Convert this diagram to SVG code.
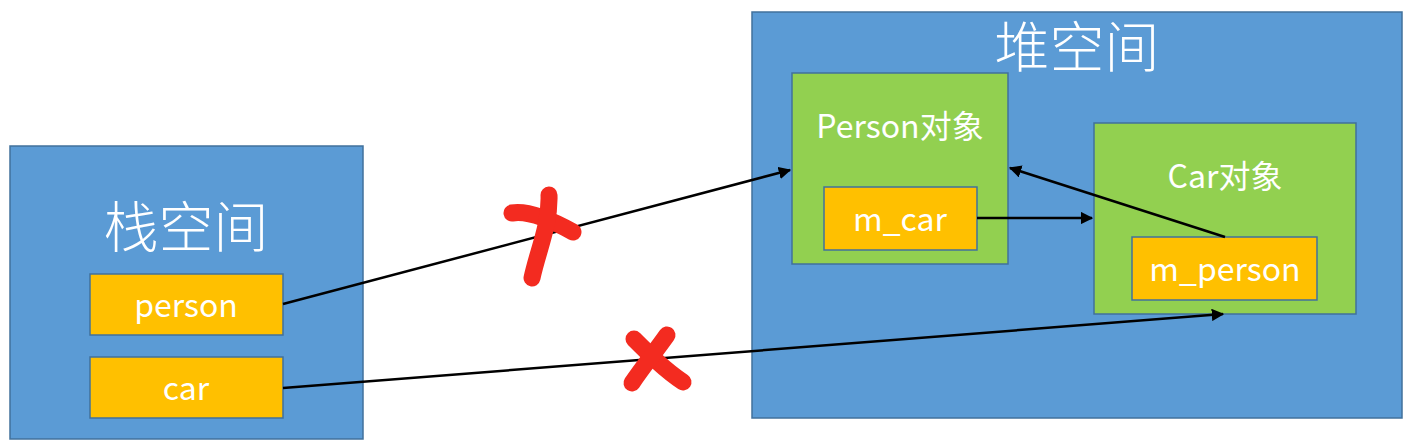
<svg xmlns="http://www.w3.org/2000/svg" width="1428" height="446" viewBox="0 0 1428 446">
<defs>
<style>
.space{fill:#5B9BD5;stroke:#41719C;stroke-width:1.5}
.obj{fill:#92D050;stroke:#41719C;stroke-width:1.5}
.field{fill:#FFC000;stroke:#41719C;stroke-width:1.5}
.t{fill:#fff;font-family:"Noto Sans CJK SC","Noto Sans",sans-serif;text-anchor:middle}
.title{font-size:55px;font-weight:300}
.lbl{font-size:32px}
.conn{stroke:#000;stroke-width:2.5;fill:none;marker-end:url(#ah)}
.mark{stroke:#F32B20;stroke-width:17;stroke-linecap:round;fill:none}
</style>
<marker id="ah" viewBox="0 0 10 10" refX="9" refY="5" markerWidth="5" markerHeight="5" orient="auto" markerUnits="strokeWidth">
<path d="M0,0 L10,5 L0,10 z" fill="#000"/>
</marker>
</defs>
<rect width="1428" height="446" fill="#fff"/>
<g id="stack">
<rect class="space" x="10" y="146" width="353" height="293"/>
<text class="t title" x="186" y="247">栈空间</text>
</g>
<g id="person">
<rect class="field" x="90" y="274" width="193" height="61"/>
<text class="t lbl" x="186" y="317">person</text>
</g>
<g id="car">
<rect class="field" x="90" y="357" width="193" height="61"/>
<text class="t lbl" x="186" y="400">car</text>
</g>
<g id="heap">
<rect class="space" x="752" y="12" width="650" height="406"/>
<text class="t title" x="1077" y="67">堆空间</text>
</g>
<g id="personObj">
<rect class="obj" x="792" y="73" width="216" height="191"/>
<text class="t lbl" x="900" y="138">Person对象</text>
</g>
<g id="m_car">
<rect class="field" x="824" y="187" width="153" height="63"/>
<text class="t lbl" x="900" y="231">m_car</text>
</g>
<g id="carObj">
<rect class="obj" x="1094" y="123" width="262" height="191"/>
<text class="t lbl" x="1225" y="188">Car对象</text>
</g>
<g id="m_person">
<rect class="field" x="1132" y="237" width="185" height="63"/>
<text class="t lbl" x="1225" y="281">m_person</text>
</g>
<g id="connectors">
<line class="conn" x1="283" y1="304" x2="790" y2="170"/>
<line class="conn" x1="283" y1="388" x2="1223" y2="314"/>
<line class="conn" x1="977" y1="218" x2="1092" y2="218"/>
<line class="conn" x1="1225" y1="237" x2="1010" y2="168"/>
</g>
<g id="marks">
<path class="mark" d="M512,213 C530,210 555,222 573,232"/>
<path class="mark" d="M549,195 C550,225 538,250 532,278"/>
<path class="mark" d="M634,339 C650,355 665,370 683,382"/>
<path class="mark" d="M667,335 C655,352 642,368 632,383"/>
</g>
</svg>
